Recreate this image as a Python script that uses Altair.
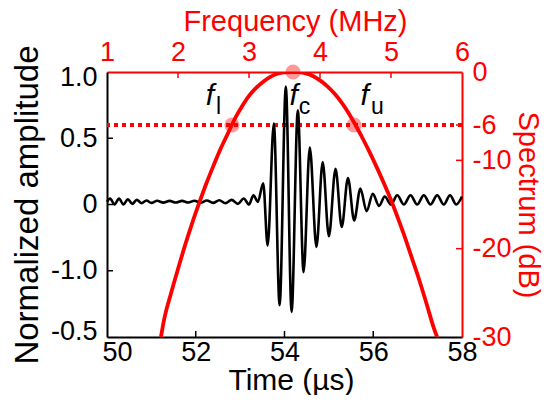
import altair as alt
import pandas as pd

FONT = "Liberation Sans"
RED = "#ff0000"

# ---------------- data ----------------
# waveform: successive extrema (time in us, normalized amplitude)
wave_time = [50.00, 50.07, 50.17, 50.27, 50.37, 50.47, 50.57, 50.67, 50.78, 50.89,
             51.00, 51.13, 51.27, 51.41, 51.55, 51.69, 51.83, 51.97, 52.11, 52.25,
             52.39, 52.53, 52.67, 52.81, 52.95, 53.08, 53.20, 53.30, 53.40, 53.52,
             53.62, 53.76, 53.89, 54.03, 54.16, 54.30, 54.43, 54.57, 54.72, 54.86,
             55.00, 55.15, 55.29, 55.43, 55.57, 55.71, 55.85, 55.99, 56.13, 56.26,
             56.40, 56.54, 56.69, 56.84, 56.99, 57.14, 57.29, 57.44, 57.59, 57.73,
             57.87, 58.00]
wave_amp = [0.02, 0.045, 0.0, 0.045, 0.0, 0.04, 0.005, 0.035, 0.01, 0.03,
            0.012, 0.028, 0.014, 0.027, 0.015, 0.027, 0.015, 0.028, 0.014, 0.03,
            0.012, 0.032, 0.01, 0.035, 0.005, 0.045, 0.0, 0.07, 0.02, 0.16,
            -0.31, 0.61, -0.76, 0.89, -0.81, 0.71, -0.51, 0.43, -0.32, 0.32,
            -0.24, 0.27, -0.17, 0.20, -0.12, 0.12, -0.05, 0.08, -0.01, 0.06,
            0.0, 0.07, 0.0, 0.07, 0.0, 0.07, 0.0, 0.07, 0.0, 0.07,
            0.0, 0.06]

# spectrum (MHz, dB)
spec_freq = [1.76, 1.8, 1.9, 2.0, 2.1, 2.2, 2.3, 2.4, 2.5, 2.6, 2.7, 2.8, 2.9, 3.0,
             3.1, 3.2, 3.3, 3.4, 3.5, 3.62, 3.7, 3.8, 3.9, 4.0, 4.1, 4.2, 4.3, 4.4,
             4.5, 4.6, 4.7, 4.8, 4.9, 5.0, 5.1, 5.2, 5.3, 5.4, 5.5, 5.6, 5.65]
spec_db = [-30, -28.2, -25.1, -22.3, -19.6, -17.1, -14.8, -12.6, -10.6, -8.7, -7.0,
           -5.3, -3.9, -2.7, -1.8, -1.1, -0.55, -0.2, -0.05, 0, -0.02, -0.15, -0.45,
           -0.95, -1.6, -2.4, -3.4, -4.6, -6.0, -7.5, -9.1, -10.8, -12.6, -14.5,
           -16.6, -18.8, -21.2, -23.6, -26.2, -28.9, -30]

cutoff_db = [-6]
marker_freq = [2.76, 3.62, 4.48]
marker_db = [-6, 0, -6]

label_main = ["f", "f", "f"]
label_main_freq = [2.39, 3.57, 4.57]
label_main_db = [-3.7, -3.7, -3.7]
label_sub = ["l", "c", "u"]
label_sub_freq = [2.535, 3.70, 4.72]
label_sub_db = [-4.7, -4.7, -4.7]

time_ticks = [50, 52, 54, 56, 58]
amp_ticks = [1.0, 0.5, 0.0, -0.5, -1.0]
amp_tick_labels = ["1.0", "0.5", "0", "-1.0", "-0.5"]
freq_ticks = [1, 2, 3, 4, 5, 6]
db_ticks = [0, -6, -10, -20, -30]

# ---------------- layout ----------------
W, H = 355, 265
TICK = 6

wave_df = pd.DataFrame({"t": wave_time, "a": wave_amp})
spec_df = pd.DataFrame({"f": spec_freq, "d": spec_db})
cut_df = pd.DataFrame({"d": cutoff_db})
mark_df = pd.DataFrame({"f": marker_freq, "d": marker_db})
main_df = pd.DataFrame({"f": label_main_freq, "d": label_main_db, "s": label_main})
sub_df = pd.DataFrame({"f": label_sub_freq, "d": label_sub_db, "s": label_sub})
tt_df = pd.DataFrame({"t": time_ticks[1:-1]})
at_df = pd.DataFrame({"a": amp_ticks[1:-1]})
ft_df = pd.DataFrame({"f": freq_ticks[1:-1]})
dt_df = pd.DataFrame({"d": db_ticks[1:-1]})

time_scale = alt.Scale(domain=[time_ticks[0], time_ticks[-1]], nice=False, zero=False)
amp_scale = alt.Scale(domain=[amp_ticks[-1], amp_ticks[0]], nice=False, zero=False)
freq_scale = alt.Scale(domain=[freq_ticks[0], freq_ticks[-1]], nice=False, zero=False)
db_scale = alt.Scale(domain=[db_ticks[-1], db_ticks[0]], nice=False, zero=False)

amp_label_expr = " : ".join(
    [f"datum.value == {v} ? '{l}'" for v, l in zip(amp_ticks, amp_tick_labels)]
) + " : ''"

common = dict(grid=False, ticks=False, tickSize=0, labelFont=FONT, titleFont=FONT,
              titleFontWeight="normal", domainWidth=2)

x_axis = alt.Axis(orient="bottom", values=time_ticks, title="Time (µs)",
                  domainColor="black", labelColor="black", titleColor="black",
                  labelFontSize=27, labelBaseline="alphabetic", labelPadding=23,
                  labelFlush=False,
                  labelOffset={"condition": {"test": f"datum.value == {time_ticks[0]}", "value": 10}, "value": 0},
                  titleFontSize=30, titleBaseline="alphabetic", titleAlign="center",
                  titleX=184, titleY=52, **common)
y_axis = alt.Axis(orient="left", values=amp_ticks, labelExpr=amp_label_expr,
                  title="Normalized amplitude",
                  domainColor="black", labelColor="black", titleColor="black",
                  labelFontSize=27, labelPadding=10, labelFlush=False,
                  labelOffset={"condition": [
                      {"test": f"datum.value == {amp_ticks[0]}", "value": 5},
                      {"test": f"datum.value == {amp_ticks[-1]}", "value": -6}], "value": 0},
                  titleFontSize=33, titleBaseline="alphabetic", titleAlign="center",
                  titleAngle=270, titleX=-70, titleY=H / 2, **common)
f_axis = alt.Axis(orient="top", values=freq_ticks, title="Frequency (MHz)",
                  domainColor=RED, labelColor=RED, titleColor=RED,
                  labelFontSize=27, labelBaseline="alphabetic", labelPadding=12,
                  labelFlush=False,
                  titleFontSize=29, titleBaseline="alphabetic", titleAlign="center",
                  titleX=188, titleY=-42, **common)
d_axis = alt.Axis(orient="right", values=db_ticks, labelExpr="datum.value + ''",
                  title="Spectrum (dB)",
                  domainColor=RED, labelColor=RED, titleColor=RED,
                  labelFontSize=27, labelPadding=10, labelFlush=False,
                  titleFontSize=29, titleBaseline="alphabetic", titleAlign="center",
                  titleAngle=90, titleX=56, titleY=H / 2, **common)

# ---------------- red dotted -6 dB line (below waveform) ----------------
cut_rule = alt.Chart(cut_df).mark_rule(color=RED, strokeWidth=4, strokeDash=[4, 4]).encode(
    y=alt.Y("d:Q", scale=db_scale, axis=None)
)

# ---------------- waveform group ----------------
wave = alt.Chart(wave_df).mark_line(color="black", strokeWidth=2.6, interpolate="monotone").encode(
    x=alt.X("t:Q", scale=time_scale, axis=x_axis),
    y=alt.Y("a:Q", scale=amp_scale, axis=y_axis),
)
bt = alt.Chart(tt_df).mark_rule(color="black", strokeWidth=1.5).encode(
    x=alt.X("t:Q", scale=time_scale, axis=x_axis),
    y=alt.value(H), y2=alt.value(H - TICK),
)
lt = alt.Chart(at_df).mark_rule(color="black", strokeWidth=1.5).encode(
    y=alt.Y("a:Q", scale=amp_scale, axis=y_axis),
    x=alt.value(0), x2=alt.value(TICK),
)
group_a = alt.layer(wave, bt, lt)

# ---------------- spectrum group ----------------
spec = alt.Chart(spec_df).mark_line(color=RED, strokeWidth=3.8, interpolate="monotone", clip=True).encode(
    x=alt.X("f:Q", scale=freq_scale, axis=f_axis),
    y=alt.Y("d:Q", scale=db_scale, axis=d_axis),
)
dots = alt.Chart(mark_df).mark_circle(size=230, color=RED, opacity=0.4).encode(
    x=alt.X("f:Q", scale=freq_scale, axis=f_axis),
    y=alt.Y("d:Q", scale=db_scale, axis=d_axis),
)
t_main = alt.Chart(main_df).mark_text(font=FONT, fontSize=30, fontStyle="italic", color="black",
                                      align="left", baseline="alphabetic").encode(
    x=alt.X("f:Q", scale=freq_scale, axis=f_axis),
    y=alt.Y("d:Q", scale=db_scale, axis=d_axis),
    text="s:N",
)
t_sub = alt.Chart(sub_df).mark_text(font=FONT, fontSize=23, color="black",
                                    align="left", baseline="alphabetic").encode(
    x=alt.X("f:Q", scale=freq_scale, axis=f_axis),
    y=alt.Y("d:Q", scale=db_scale, axis=d_axis),
    text="s:N",
)
ttop = alt.Chart(ft_df).mark_rule(color=RED, strokeWidth=1.5).encode(
    x=alt.X("f:Q", scale=freq_scale, axis=f_axis),
    y=alt.value(0), y2=alt.value(TICK),
)
tright = alt.Chart(dt_df).mark_rule(color=RED, strokeWidth=1.5).encode(
    y=alt.Y("d:Q", scale=db_scale, axis=d_axis),
    x=alt.value(W), x2=alt.value(W - TICK),
)
group_b = alt.layer(spec, dots, t_main, t_sub, ttop, tright)

chart = alt.layer(cut_rule, group_a, group_b).resolve_scale(
    x="independent", y="independent"
).properties(
    width=W, height=H,
    autosize=alt.AutoSizeParams(type="none"),
    padding={"left": 99, "top": 64, "right": 80, "bottom": 58},
).configure_view(stroke=None)

chart.save("out.html", embed_options={"renderer": "svg", "actions": False})
